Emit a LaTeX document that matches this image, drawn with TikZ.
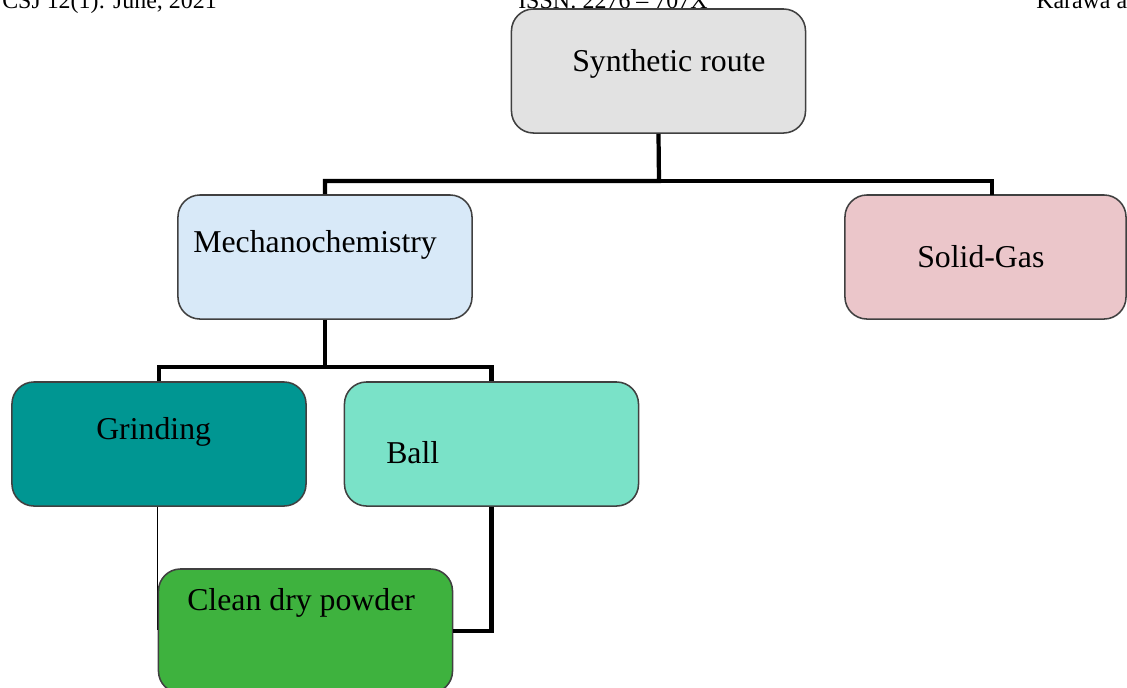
\documentclass[tikz,border=0pt]{standalone}
\usepackage{fontspec}
\setmainfont{Liberation Serif}
\usetikzlibrary{calc}
\definecolor{routegrey}{RGB}{226,226,226}
\definecolor{mechblue}{RGB}{216,233,248}
\definecolor{gaspink}{RGB}{235,198,202}
\definecolor{grindteal}{RGB}{0,150,146}
\definecolor{ballmint}{RGB}{122,226,200}
\definecolor{powdergreen}{RGB}{62,178,62}

\begin{document}
\begin{tikzpicture}[x=0.025cm, y=-0.025cm,
    box/.style={draw=black!75, line width=1.1pt, rounded corners=0.55cm,
        minimum width=7.35cm, minimum height=3.1cm, inner sep=0pt},
    lbl/.style={anchor=base west, inner sep=0pt, font=\fontsize{22.6}{27}\selectfont},
    hdr/.style={anchor=base west, inner sep=0pt, font=\fontsize{17}{20}\selectfont},
    conn/.style={line width=3pt},
    thinconn/.style={line width=0.7pt}]
        \useasboundingbox (0,0) rectangle (1127,687);

        % Page header (cut at the top)
        \node[hdr] (hdrleft) at (2,8.5) {CSJ 12(1): June, 2021};
        \node[hdr] (hdrmid) at (518,8.5) {ISSN: 2276 -- 707X};
        \node[hdr] (hdrright) at (1036,8.5) {Karawa a};

        % Boxes
        \node[box, fill=routegrey] (route) at (658.5,71) {};
        \node[box, fill=mechblue] (mech) at (325,257) {};
        \node[box, fill=gaspink, minimum width=7.025cm] (gas) at (985.5,257) {};
        \node[box, fill=grindteal] (grind) at (159,444) {};
        \node[box, fill=ballmint] (ball) at (491.5,444) {};

        % Connectors
        \coordinate (busone) at (659,181);
        \coordinate (bustwo) at (325,367);
        \coordinate (gasin) at (992,195);
        \coordinate (grindend) at (157,630);
        \draw[conn] (route.south) -- (busone) -| (mech.north);
        \draw[conn] (busone) -| (gasin);
        \draw[conn] (mech.south) -- (bustwo) -| (grind.north);
        \draw[conn] (bustwo) -| (ball.north);
        \draw[thinconn] (grind.south -| grindend) -- (grindend);

        \node[box, fill=powdergreen] (powder) at (305.5,631) {};
        \draw[conn] (ball.south) |- (powder.east);

        % Labels
        \node[lbl] (routetxt) at (572,71) {Synthetic route};
        \node[lbl] (mechtxt) at (193,252) {Mechanochemistry};
        \node[lbl] (gastxt) at (917,267) {Solid-Gas};
        \node[lbl] (grindtxt) at (96,439) {Grinding};
        \node[lbl] (balltxt) at (386,463) {Ball};
        \node[lbl] (powdertxt) at (187,610) {Clean dry powder};
    \end{tikzpicture}
\end{document}
